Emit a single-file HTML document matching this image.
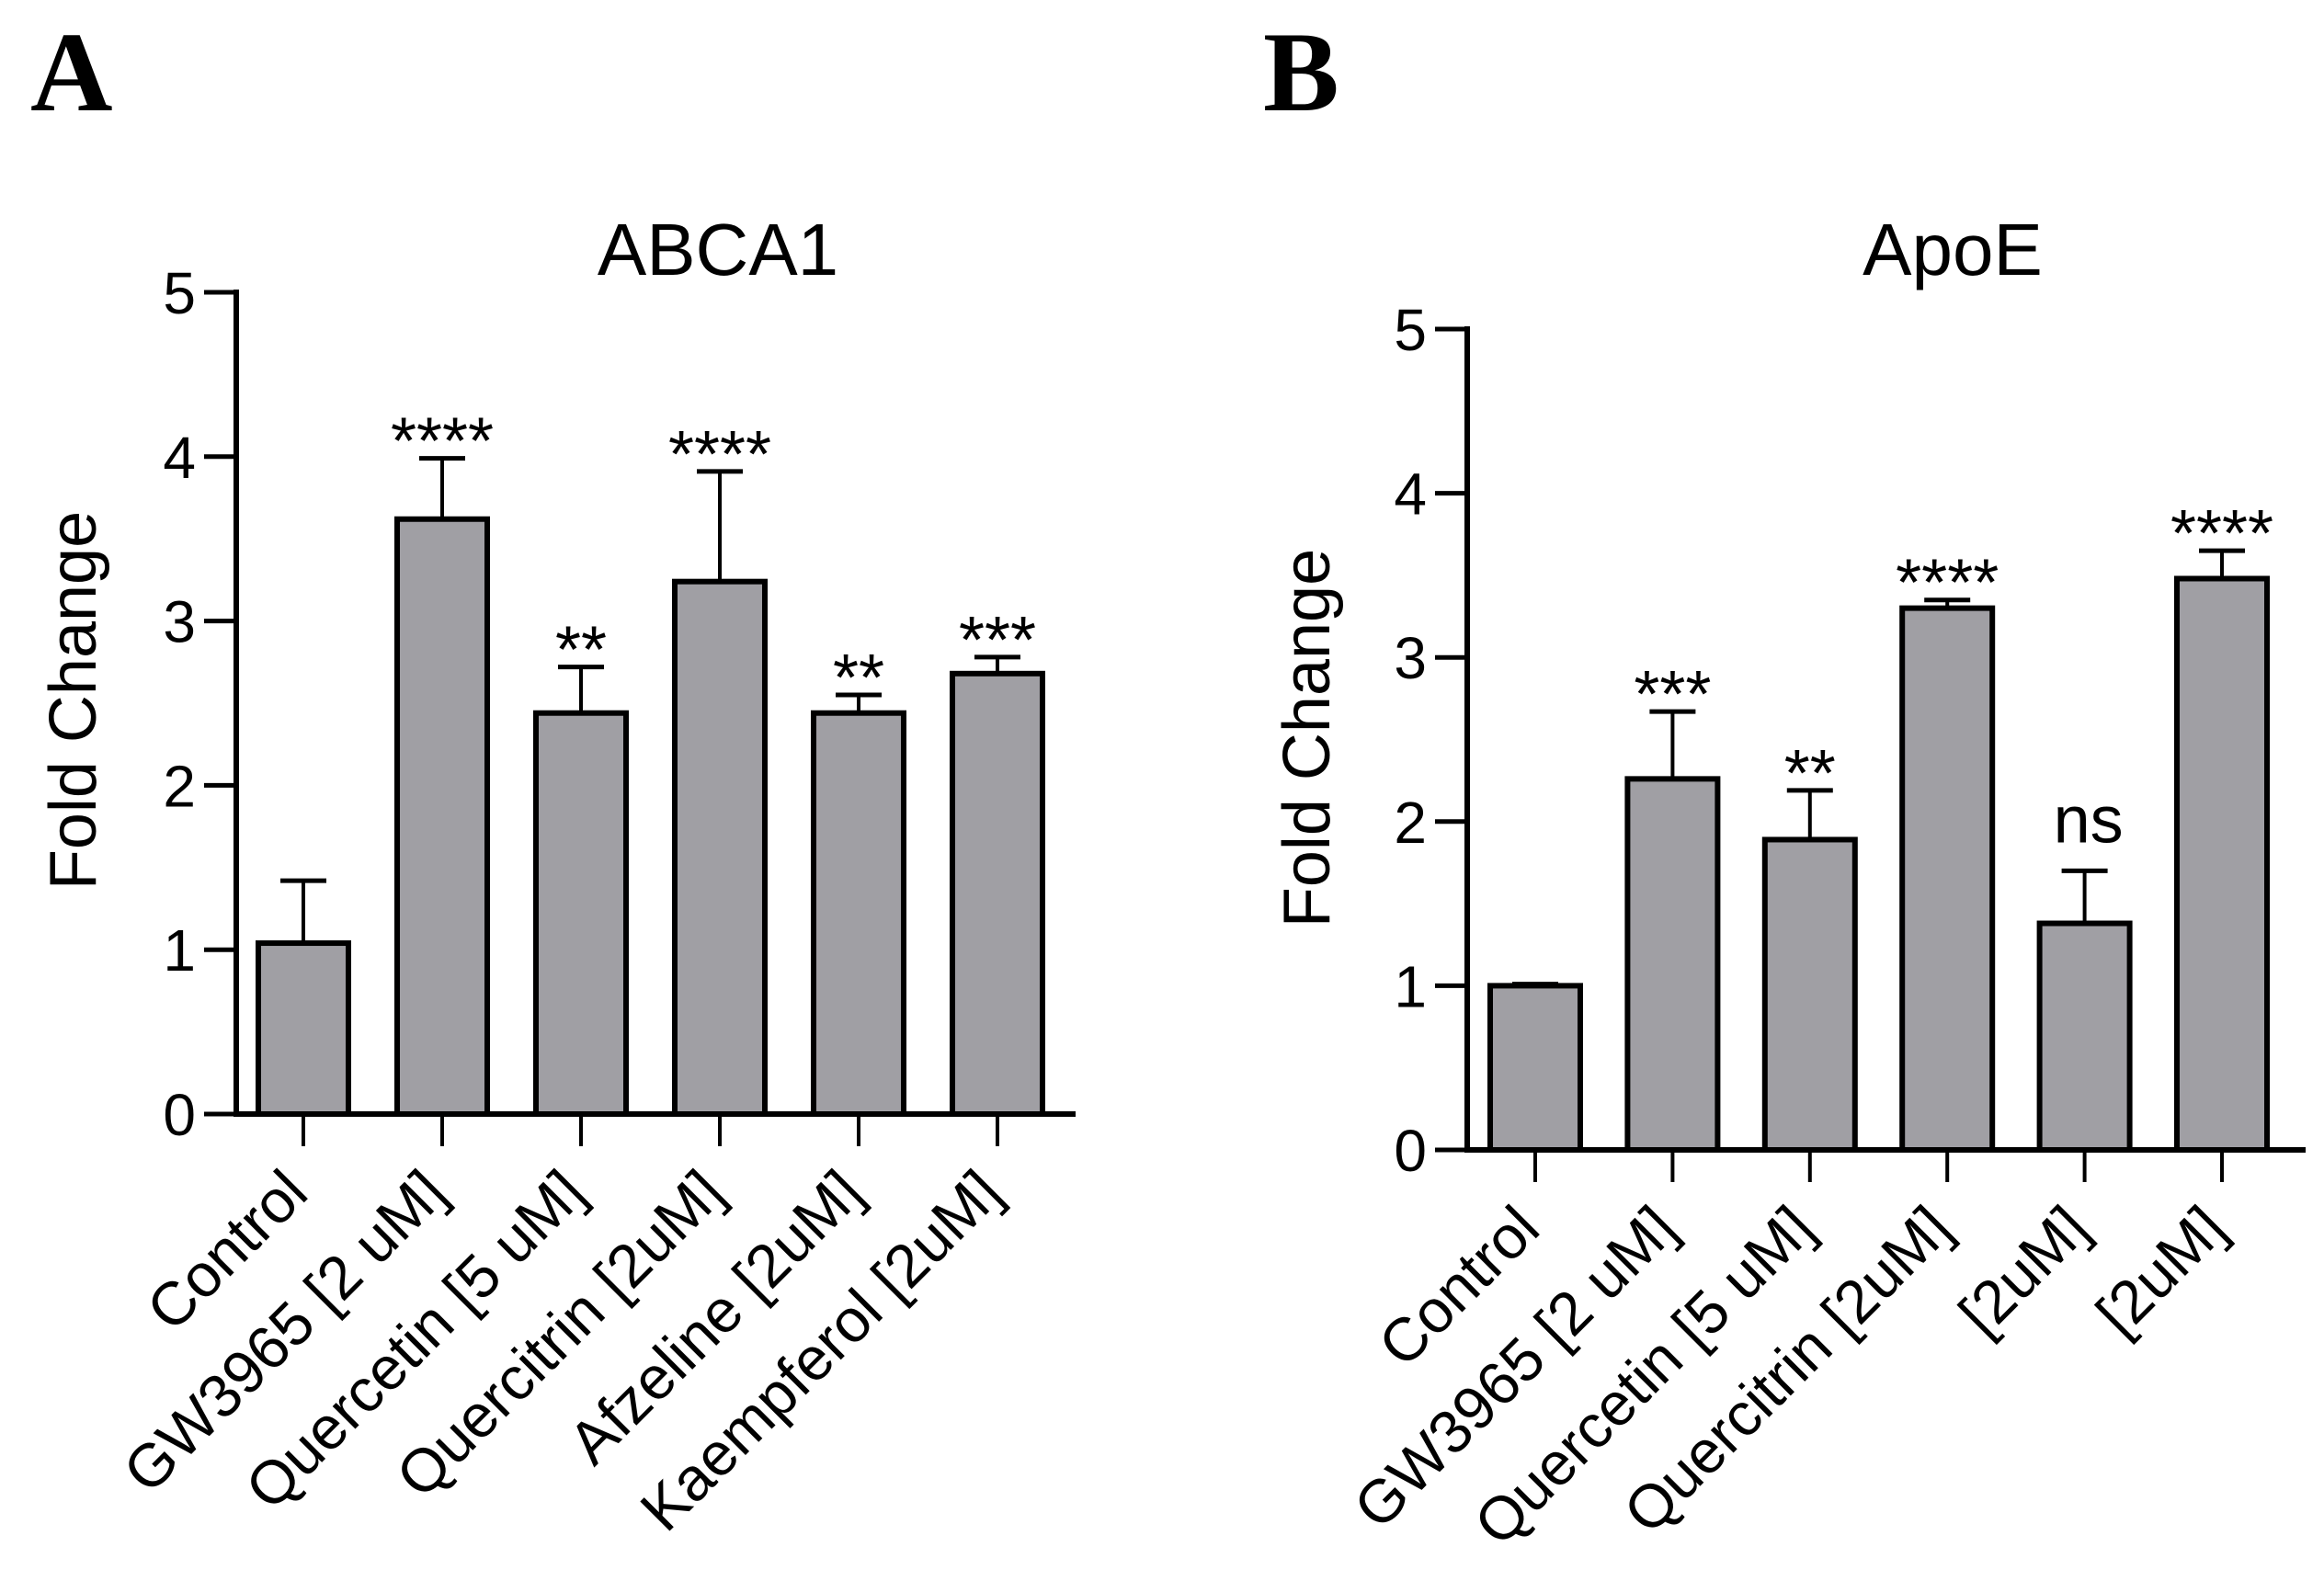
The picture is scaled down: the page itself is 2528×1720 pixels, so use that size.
<!DOCTYPE html>
<html><head><meta charset="utf-8"><style>
html,body{margin:0;padding:0;background:#fff;}
svg{display:block;font-family:"Liberation Sans",Arial,sans-serif;}
</style></head><body>
<svg id="fig" width="2528" height="1720" viewBox="0 0 2528 1720">
<text x="33" y="120" font-family="Liberation Serif" font-weight="bold" font-size="124">A</text>
<text x="1374" y="120" font-family="Liberation Serif" font-weight="bold" font-size="124">B</text>
<g id="chartA"></g>
<g id="chartB"></g>
</svg>
<script>
const categoriesA = ["Control","GW3965 [2 uM]","Quercetin [5 uM]","Quercitrin [2uM]","Afzeline [2uM]","Kaempferol [2uM]"];
const valuesA = [1.04, 3.62, 2.44, 3.24, 2.44, 2.68];
const errTopsA = [1.42, 3.99, 2.72, 3.91, 2.55, 2.78];
const sigA = ["", "****", "**", "****", "**", "***"];
const categoriesB = ["Control","GW3965 [2 uM]","Quercetin [5 uM]","Quercitrin [2uM]","[2uM]","[2uM]"];
const valuesB = [1.0, 2.26, 1.89, 3.30, 1.38, 3.48];
const errTopsB = [1.01, 2.67, 2.19, 3.35, 1.70, 3.65];
const sigB = ["", "***", "**", "****", "ns", "****"];
const yTicks = [0, 1, 2, 3, 4, 5];

const NS = "http://www.w3.org/2000/svg";
function mk(parent, tag, attrs, txt) {
  const e = document.createElementNS(NS, tag);
  for (const k in attrs) e.setAttribute(k, attrs[k]);
  if (txt !== undefined) e.textContent = txt;
  parent.appendChild(e);
  return e;
}
function drawChart(g, cfg, cats, vals, errs, sigs, title) {
  const y = v => cfg.y0 - (v / 5) * (cfg.y0 - cfg.y5);
  const x = i => cfg.x0 + i * cfg.step;
  const t = mk(g, "text", {x: cfg.titleX, y: 299, "font-size": 80, "text-anchor": "middle"}, title);
  
  
  const yl = mk(g, "text", {x: 0, y: 0, "font-size": 72, "text-anchor": "middle", transform: `translate(${cfg.ylabX},${cfg.ylabY}) rotate(-90)`}, "Fold Change");
  
  
  cats.forEach((c, i) => {
    const cx = x(i);
    const top = y(vals[i]), et = y(errs[i]);
    const eb = mk(g, "line", {x1: cx, x2: cx, y1: et, y2: top, stroke: "#000", "stroke-width": 4});
    
    
    const cap = mk(g, "line", {x1: cx - 25, x2: cx + 25, y1: et, y2: et, stroke: "#000", "stroke-width": 5});
    
    
    const r = mk(g, "rect", {x: cx - 49, y: top, width: 98, height: cfg.y0 - top, fill: "#a09fa4", stroke: "#000", "stroke-width": 6});
    
    
    if (sigs[i]) {
      const isNs = sigs[i] === "ns";
      const s = mk(g, "text", {x: cx + (isNs ? 4 : 0), y: isNs ? et - 31 : et + 6, "font-size": isNs ? 72 : 72, "text-anchor": "middle"}, sigs[i]);
      
      
    }
    const tk = mk(g, "line", {x1: cx, x2: cx, y1: cfg.y0, y2: cfg.y0 + 35, stroke: "#000", "stroke-width": 4});
    
    
    const lx = cx + 8, ly = cfg.y0 + 89;
    const lb = mk(g, "text", {x: lx, y: ly, "font-size": 66, "text-anchor": "end", transform: `rotate(-45 ${lx} ${ly})`}, c);
    
    
  });
  yTicks.forEach(v => {
    const ty = y(v);
    const tk = mk(g, "line", {x1: cfg.ax - 35, x2: cfg.ax, y1: ty, y2: ty, stroke: "#000", "stroke-width": 5});
    
    
    const tl = mk(g, "text", {x: cfg.ax - 44, y: ty + 23, "font-size": 64, "text-anchor": "end"}, String(v));
    
    
  });
  const ya = mk(g, "line", {x1: cfg.ax, x2: cfg.ax, y1: y(5) - 3, y2: cfg.y0 + 3, stroke: "#000", "stroke-width": 6});
  
  
  const xa = mk(g, "line", {x1: cfg.ax, x2: cfg.xEnd, y1: cfg.y0, y2: cfg.y0, stroke: "#000", "stroke-width": 6});
  
  
}
drawChart(document.getElementById("chartA"),
  {ax: 257, y0: 1212, y5: 318, x0: 330, step: 151, xEnd: 1170, titleX: 781, ylabX: 104, ylabY: 762},
  categoriesA, valuesA, errTopsA, sigA, "ABCA1");
drawChart(document.getElementById("chartB"),
  {ax: 1596, y0: 1251, y5: 358, x0: 1670, step: 149.4, xEnd: 2508, titleX: 2124, ylabX: 1446, ylabY: 803},
  categoriesB, valuesB, errTopsB, sigB, "ApoE");
</script>
</body></html>
